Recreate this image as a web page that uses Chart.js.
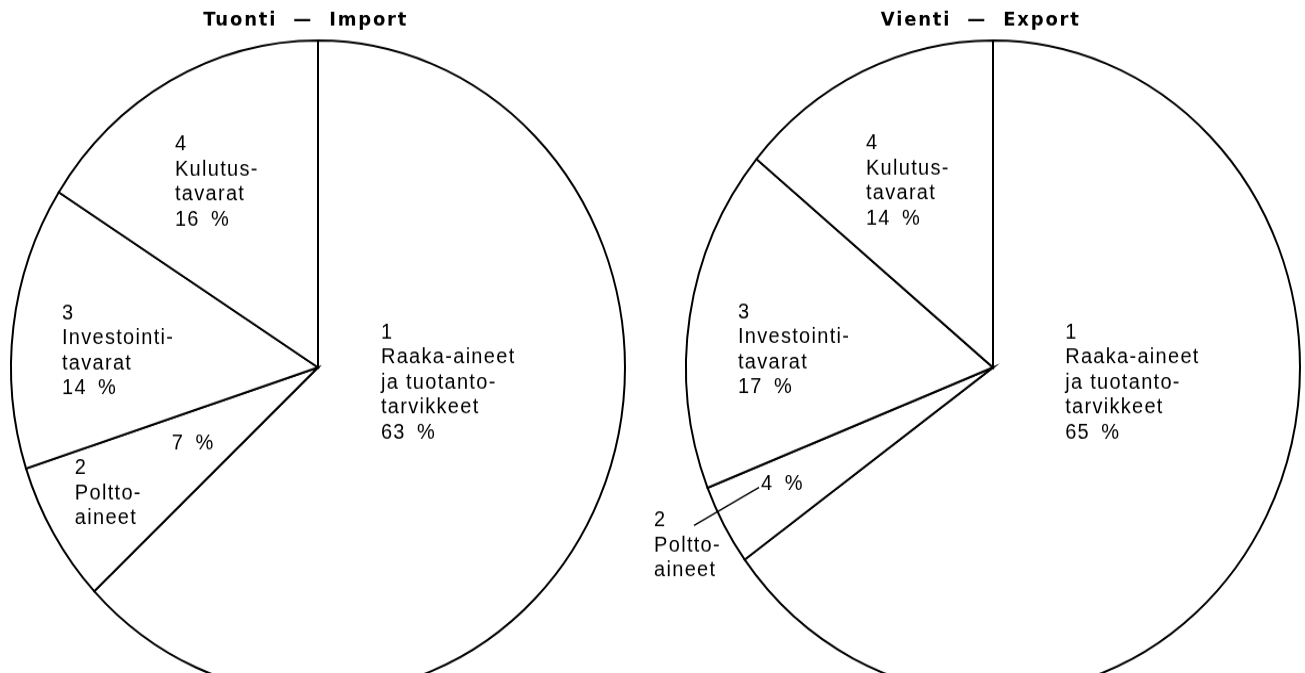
<!DOCTYPE html>
<html>
<head>
<meta charset="utf-8">
<script src="https://cdn.jsdelivr.net/npm/chart.js@4.4.1/dist/chart.umd.min.js"></script>
<style>
  html, body { margin: 0; padding: 0; background: #fff; overflow: hidden; width: 1305px; height: 673px; }
  .wrap { position: absolute; top: 0; transform: scaleY(1.065); transform-origin: 0 0; }
  #w1 { left: 0; width: 652px; height: 660px; }
  #w2 { left: 652px; width: 653px; height: 660px; }
  canvas { display: block; }
</style>
</head>
<body>
<div class="wrap" id="w1"><canvas id="c1" width="652" height="660"></canvas></div>
<div class="wrap" id="w2"><canvas id="c2" width="653" height="660"></canvas></div>
<script>
// ---- data ----
const categories = ["Raaka-aineet ja tuotantotarvikkeet", "Polttoaineet", "Investointitavarat", "Kulutustavarat"];
const categoryNumbers = ["1", "2", "3", "4"];
const categoryLines = [
  ["Raaka-aineet", "ja tuotanto-", "tarvikkeet"],
  ["Poltto-", "aineet"],
  ["Investointi-", "tavarat"],
  ["Kulutus-", "tavarat"]
];
const importValues = [63, 7, 14, 16];
const exportValues = [65, 4, 17, 14];
const importTitle = "Tuonti  —  Import";
const exportTitle = "Vienti  —  Export";

// ---- label layout (relative to pie centre, in units of radius) ----
const importLayout = [
  { name: [0.205, -0.107] },
  { name: [-0.792, 0.309], pct: [-0.476, 0.233] },
  { name: [-0.834, -0.165] },
  { name: [-0.466, -0.682] }
];
const exportLayout = [
  { name: [0.235, -0.107] },
  { name: [-1.104, 0.468], pct: [-0.756, 0.355], leader: [[-0.974, 0.483], [-0.762, 0.367]] },
  { name: [-0.831, -0.168] },
  { name: [-0.414, -0.685] }
];

const LABEL_FONT = '20px "Liberation Sans", Arial, sans-serif';
const TITLE_FONT = 'bold 18px "DejaVu Sans", sans-serif';
const LINE_H = 23.5;

const pieText = {
  id: 'pieText',
  afterDatasetsDraw(chart, args, opts) {
    const ctx = chart.ctx;
    const meta = chart.getDatasetMeta(0);
    const values = chart.data.datasets[0].data;
    const a0 = meta.data[0];
    const cx = a0.x, cy = a0.y, r = a0.outerRadius;
    ctx.save();
    ctx.fillStyle = '#000';
    // title
    ctx.font = TITLE_FONT;
    ctx.letterSpacing = '1.8px';
    ctx.textAlign = 'center';
    ctx.textBaseline = 'alphabetic';
    ctx.fillText(opts.title, cx - 0.04 * r, 23.5);
    // slice labels
    ctx.font = LABEL_FONT;
    ctx.letterSpacing = '1.3px';
    ctx.textAlign = 'left';
    ctx.textBaseline = 'middle';
    opts.layout.forEach((lay, i) => {
      const pctText = values[i] + '\u2002%';
      const lines = [categoryNumbers[i], ...categoryLines[i]];
      if (!lay.pct) lines.push(pctText);
      const x = cx + lay.name[0] * r, y = cy + lay.name[1] * r;
      lines.forEach((t, k) => ctx.fillText(t, x, y + k * LINE_H));
      if (lay.pct) ctx.fillText(pctText, cx + lay.pct[0] * r, cy + lay.pct[1] * r);
      if (lay.leader) {
        ctx.beginPath();
        ctx.lineWidth = 1.4;
        ctx.strokeStyle = '#000';
        ctx.moveTo(cx + lay.leader[0][0] * r, cy + lay.leader[0][1] * r);
        ctx.lineTo(cx + lay.leader[1][0] * r, cy + lay.leader[1][1] * r);
        ctx.stroke();
      }
    });
    ctx.restore();
  }
};

function makePie(id, values, title, layout, padding) {
  return new Chart(document.getElementById(id), {
    type: 'pie',
    data: {
      labels: categories,
      datasets: [{
        data: values,
        backgroundColor: '#ffffff',
        borderColor: '#000000',
        borderWidth: 2,
        hoverBorderWidth: 2,
        borderJoinStyle: 'miter'
      }]
    },
    options: {
      responsive: false,
      animation: false,
      events: [],
      layout: { padding: padding },
      plugins: {
        legend: { display: false },
        tooltip: { enabled: false },
        title: { display: false },
        pieText: { title: title, layout: layout }
      }
    },
    plugins: [pieText]
  });
}

makePie('c1', importValues, importTitle, importLayout, { left: 10, right: 26, top: 37, bottom: 7 });
makePie('c2', exportValues, exportTitle, exportLayout, { left: 33, right: 4, top: 37, bottom: 7 });
</script>
</body>
</html>
